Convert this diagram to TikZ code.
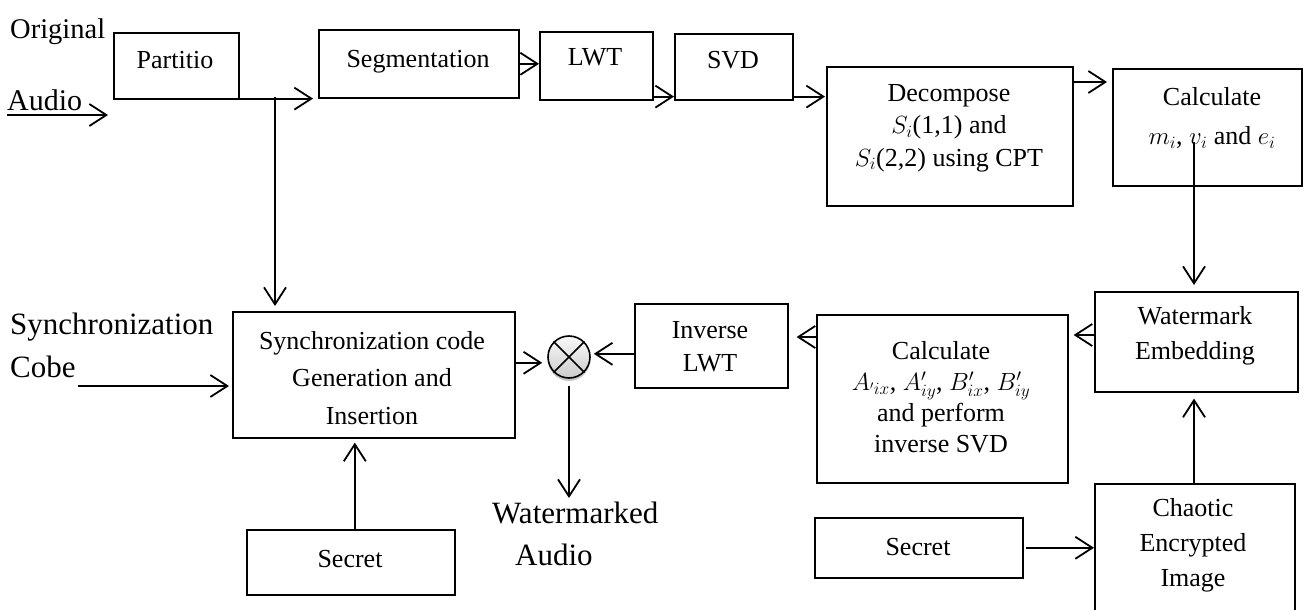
\documentclass[tikz,border=0pt]{standalone}
\usepackage{fontspec}
\setmainfont{Liberation Serif}
\usetikzlibrary{arrows.meta,shadows}

\begin{document}
\begin{tikzpicture}[x=1pt,y=-1pt,
  box/.style={draw, line width=1.6pt, rectangle, inner sep=0pt, anchor=north west},
  txt/.style={font=\fontsize{26}{33}\selectfont, align=center, inner sep=0pt},
  lbl/.style={font=\fontsize{31}{36}\selectfont, inner sep=0pt, anchor=base west},
  arr/.style={line width=1.8pt, -{Straight Barb[length=17pt,width=22pt,line width=1.8pt]}},
  mixer/.style={circle, draw, line width=1.6pt, minimum size=42pt, inner sep=0pt,
    top color=gray!5, bottom color=gray!40,
    drop shadow={shadow xshift=0pt, shadow yshift=-3pt, opacity=0.45}},
]
\useasboundingbox (0,0) rectangle (1303,610);

% ---------- boxes ----------
\node[box, minimum width=125pt, minimum height=66pt]  (part)   at (113,32)  {};
\node[box, minimum width=200pt, minimum height=68pt]  (seg)    at (318,29)  {};
\node[box, minimum width=113pt, minimum height=68pt]  (lwt)    at (539,31)  {};
\node[box, minimum width=118pt, minimum height=66pt]  (svd)    at (674,33)  {};
\node[box, minimum width=246pt, minimum height=139pt] (dec)    at (826,66)  {};
\node[box, minimum width=189pt, minimum height=117pt] (calc)   at (1112,68) {};
\node[box, minimum width=203pt, minimum height=100pt] (embed)  at (1094,291) {};
\node[box, minimum width=251pt, minimum height=168pt] (calcB)  at (816,314) {};
\node[box, minimum width=200pt, minimum height=150pt] (chaos)  at (1094,483) {};
\node[box, minimum width=208pt, minimum height=60pt]  (secR)   at (814,517) {};
\node[box, minimum width=153pt, minimum height=84pt]  (ilwt)   at (634,303) {};
\node[box, minimum width=282pt, minimum height=126pt] (sync)   at (232,311) {};
\node[box, minimum width=208pt, minimum height=65pt]  (secL)   at (246,529) {};
\node[mixer] (mix) at (569,357) {};
\draw[line width=1.6pt] (mix.north west) -- (mix.south east)
                        (mix.north east) -- (mix.south west);

% ---------- box texts ----------
\node[txt] (part-t)  at (175,60)  {Partitio};
\node[txt] (seg-t)   at (418,62)  {Segmentation};
\node[txt] (lwt-t)   at (595,57)  {LWT};
\node[txt] (svd-t)   at (733,60)  {SVD};
\node[txt, font=\fontsize{26}{32.5}\selectfont] (dec-t) at (949,128)
  {Decompose\\ $S_i$(1,1) and\\ $S_i$(2,2) using CPT};
\node[txt, font=\fontsize{26}{39}\selectfont] (calc-t) at (1212,118)
  {Calculate\\ $m_i$, $v_i$ and $e_i$};
\node[txt, font=\fontsize{26}{35}\selectfont] (embed-t) at (1195,336)
  {Watermark\\ Embedding};
\node[txt, font=\fontsize{26}{31}\selectfont] (calcB-t) at (941,397)
  {Calculate\\ $A_{{}'ix}$, $A'_{iy}$, $B'_{ix}$, $B'_{iy}$\\ and perform\\ inverse SVD};
\node[txt, font=\fontsize{26}{35}\selectfont] (chaos-t) at (1193,545)
  {Chaotic\\ Encrypted\\ Image};
\node[txt] (secR-t)  at (918,547) {Secret};
\node[txt, font=\fontsize{26}{33}\selectfont] (ilwt-t) at (710,347)
  {Inverse\\ LWT};
\node[txt, font=\fontsize{26}{37.5}\selectfont] (sync-t) at (372,378)
  {Synchronization code\\ Generation and\\ Insertion};
\node[txt] (secL-t)  at (350,559) {Secret};

% ---------- free labels ----------
\node[lbl, font=\fontsize{28.5}{34}\selectfont] (orig)  at (10,38)  {Original};
\node[lbl, font=\fontsize{30}{34}\selectfont]   (audio) at (7,110)  {Audio};
\node[lbl] (syncl) at (10,334) {Synchronization};
\node[lbl] (cobe)  at (10,377) {Cobe};
\node[lbl] (wmk)   at (492,523) {Watermarked};
\node[lbl] (wmka)  at (515,565) {Audio};

% ---------- connector end points ----------
\coordinate (oa1) at (7,115);
\coordinate (oa2) at (108,115);
\coordinate (sa1) at (78,386);
\coordinate (sa2) at (229,386);
\coordinate (br)  at (275,97);
\coordinate (cv)  at (1194,142);
\coordinate (wm)  at (569,498);

% ---------- connectors ----------
\draw[arr] (oa1) -- (oa2);
\draw[arr, shorten >=5pt] ([yshift=1pt]part.south east) -- ([yshift=1pt]part.south east -| seg.west);
\draw[arr, shorten >=5pt] (br) -- (br |- sync.north);
\draw[arr] (seg.east) -- (seg.east -| lwt.west);
\draw[arr] ([yshift=4pt]lwt.south east) -- ([yshift=4pt]lwt.south east -| svd.west);
\draw[arr, shorten >=1pt] ([yshift=4pt]svd.south east) -- ([yshift=4pt]svd.south east -| dec.west);
\draw[arr, shorten >=5pt] ([yshift=-16pt]dec.north east) -- ([yshift=-16pt]dec.north east -| calc.west);
\draw[arr, shorten >=6pt] (cv) -- (cv |- embed.north);
\draw[arr, shorten >=6pt] (chaos.north -| cv) -- (cv |- embed.south);
\draw[arr, shorten >=5pt] ([yshift=-44pt]embed.north west) -- ([yshift=-44pt]embed.north west -| calcB.east);
\draw[arr, shorten >=8pt] ([yshift=-23pt]calcB.north west) -- ([yshift=-23pt]calcB.north west -| ilwt.east);
\draw[arr, shorten >=3pt] ([yshift=-8pt]ilwt.west) -- ([yshift=-8pt]ilwt.west -| mix.east);
\draw[arr, shorten >=5pt] ([yshift=12pt]sync.east) -- ([yshift=12pt]sync.east -| mix.west);
\draw[arr, shorten <=7pt] (mix.south) -- (wm);
\draw[arr, shorten >=4pt] ([xshift=4pt]secL.north) -- ([xshift=4pt]secL.north |- sync.south);
\draw[arr, shorten <=2pt] (secR.east) -- (secR.east -| chaos.west);
\draw[arr] (sa1) -- (sa2);
\end{tikzpicture}
\end{document}
